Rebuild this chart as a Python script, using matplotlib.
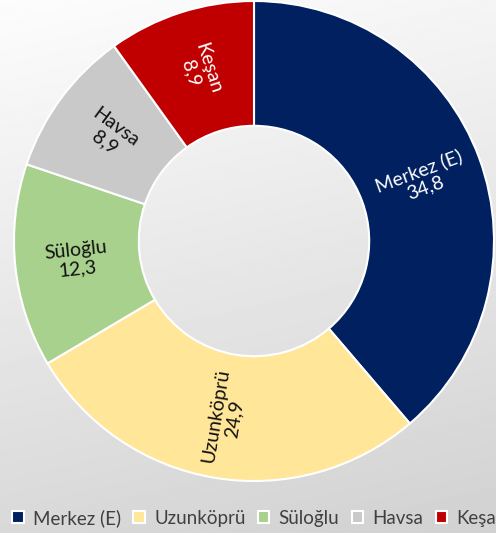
import numpy as np
import matplotlib.pyplot as plt

# data
names = ['Merkez (E)', 'Uzunköprü', 'Süloğlu', 'Havsa', 'Keşan']
values = [34.8, 24.9, 12.3, 8.9, 8.9]

colors = ['#002060', '#FFE699', '#A9D18E', '#C9C9C9', '#C00000']
text_colors = ['white', '#111111', '#111111', '#111111', 'white']

plt.rcParams['font.family'] = ['Lato', 'DejaVu Sans']

W, H = 496, 533
fig = plt.figure(figsize=(W / 100, H / 100), dpi=100)

# grey gradient background
bg = fig.add_axes([0, 0, 1, 1], zorder=0)
yy, xx = np.mgrid[0:1:300j, 0:1:300j]
shade = 0.99 - 0.14 * yy - 0.03 * xx
bg.imshow(shade, cmap='gray', vmin=0, vmax=1, extent=[0, 1, 0, 1],
          aspect='auto', origin='upper', interpolation='bilinear')
bg.axis('off')

# donut: centre (254, 241) px, outer radius 240 px
cx, cy, r = 254, 241, 240
ax = fig.add_axes([(cx - r) / W, (H - cy - r) / H, 2 * r / W, 2 * r / H], zorder=1)
ax.patch.set_alpha(0)
wedges, _ = ax.pie(values, colors=colors, startangle=90, counterclock=False,
                   radius=1, wedgeprops=dict(width=0.52, edgecolor='white', linewidth=1.5))

# labels follow the radial direction, flipped so they stay readable
for w, name, v, tc in zip(wedges, names, values, text_colors):
    ang = (w.theta1 + w.theta2) / 2
    ang = (ang + 180) % 360 - 180
    rot = ang
    if rot > 90:
        rot -= 180
    elif rot < -90:
        rot += 180
    x = 0.745 * np.cos(np.radians(ang))
    y = 0.745 * np.sin(np.radians(ang))
    label = name + '\n' + ('%.1f' % v).replace('.', ',')
    ax.text(x, y, label, rotation=rot, rotation_mode='anchor', ha='center',
            va='center', multialignment='center', color=tc, fontsize=14,
            linespacing=1.1)

ax.set_xlim(-1, 1)
ax.set_ylim(-1, 1)

fig.legend(wedges, names, loc='center left', bbox_to_anchor=(-5 / W, 1 - 518 / H),
           ncol=5, frameon=False, fontsize=13.5, handlelength=0.62,
           handleheight=0.62, handletextpad=0.5, columnspacing=0.65,
           labelcolor='#404040')

fig.savefig('out.png', dpi=100)
